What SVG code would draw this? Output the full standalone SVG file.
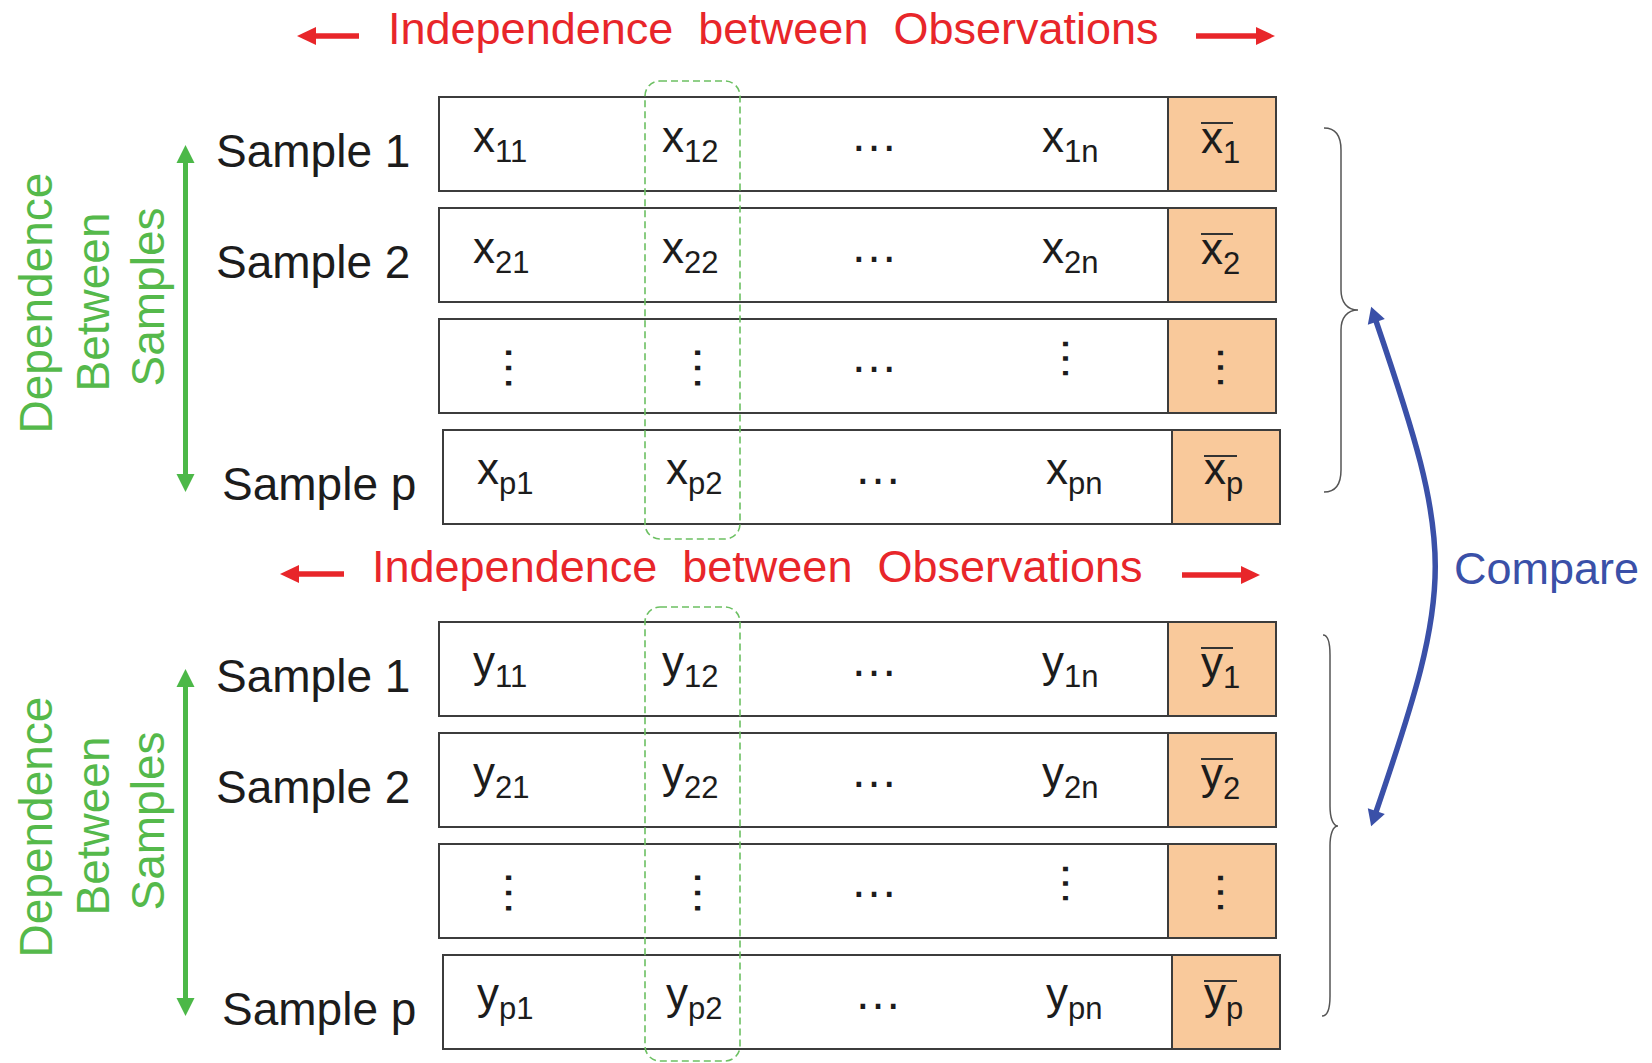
<svg xmlns="http://www.w3.org/2000/svg" width="1652" height="1063" viewBox="0 0 1652 1063">
<style>
.t{font-family:"Liberation Sans",Arial,sans-serif}
.row{fill:#fff;stroke:#3c3c3c;stroke-width:2}
.mean{fill:#f9c99b;stroke:#3c3c3c;stroke-width:2}
.cell{font-size:44px;fill:#1c1c1c}
.sub{font-size:31px}
.lbl{font-size:46px;fill:#1c1c1c}
.title{font-size:45px;fill:#e8262a}
.dep{font-size:46px;fill:#55b94b;text-anchor:middle}
.dots{font-size:48px;fill:#1c1c1c}
.dots2{font-size:46px;fill:#1c1c1c}
.ovl{stroke:#333;stroke-width:2}
.dash{fill:none;stroke:#6cc062;stroke-width:1.6;stroke-dasharray:7 4}
.brace{fill:none;stroke:#555;stroke-width:1.5}
.red{stroke:#e8262a;stroke-width:5.5;fill:none}
.green{stroke:#4cb848;stroke-width:5;fill:none}
.blue{stroke:#3a50a8;stroke-width:5.5;fill:none}
</style>
<defs>
<marker id="hr" markerUnits="userSpaceOnUse" viewBox="-2 -11 22 22" markerWidth="22" markerHeight="22" refX="0" refY="0" orient="auto-start-reverse"><path d="M-1,-9 L18,0 L-1,9 z" fill="#e8262a"/></marker>
<marker id="hg" markerUnits="userSpaceOnUse" viewBox="-2 -10 22 20" markerWidth="22" markerHeight="20" refX="0" refY="0" orient="auto-start-reverse"><path d="M-1,-9 L17,0 L-1,9 z" fill="#4cb848"/></marker>
<marker id="hb" markerUnits="userSpaceOnUse" viewBox="-2 -10 22 20" markerWidth="22" markerHeight="20" refX="0" refY="0" orient="auto-start-reverse"><path d="M-1,-9 L15,0 L-1,9 z" fill="#3a50a8"/></marker>
</defs>

<g id="title-x"><text class="t title" x="388" y="44">Independence&#160; between&#160; Observations</text></g>
<g id="title-y"><text class="t title" x="372" y="582">Independence&#160; between&#160; Observations</text></g>

<g id="dep-x">
<text class="t dep" transform="translate(52,303) rotate(-90)">Dependence</text>
<text class="t dep" transform="translate(109,302) rotate(-90)">Between</text>
<text class="t dep" transform="translate(164,297) rotate(-90)">Samples</text>
</g>
<g id="dep-y">
<text class="t dep" transform="translate(52,827) rotate(-90)">Dependence</text>
<text class="t dep" transform="translate(109,826) rotate(-90)">Between</text>
<text class="t dep" transform="translate(164,821) rotate(-90)">Samples</text>
</g>

<!-- X sample rows -->
<g id="x-row1" transform="translate(0,96)">
<rect class="row" x="439" y="1" width="837" height="94"/>
<rect class="mean" x="1168" y="1" width="108" height="94"/>
<text class="t lbl" x="216" y="71">Sample 1</text>
<text class="t cell" x="473" y="55.5">x<tspan class="sub" dy="10">11</tspan></text>
<text class="t cell" x="662" y="55.5">x<tspan class="sub" dy="10">12</tspan></text>
<text class="t dots" x="850" y="55">…</text>
<text class="t cell" x="1042" y="55.5">x<tspan class="sub" dy="10">1n</tspan></text>
<line class="ovl" x1="1201" y1="27" x2="1233" y2="27"/>
<text class="t cell" x="1201" y="57">x<tspan class="sub" dy="10">1</tspan></text>
</g>
<g id="x-row2" transform="translate(0,207)">
<rect class="row" x="439" y="1" width="837" height="94"/>
<rect class="mean" x="1168" y="1" width="108" height="94"/>
<text class="t lbl" x="216" y="71">Sample 2</text>
<text class="t cell" x="473" y="55.5">x<tspan class="sub" dy="10">21</tspan></text>
<text class="t cell" x="662" y="55.5">x<tspan class="sub" dy="10">22</tspan></text>
<text class="t dots" x="850" y="55">…</text>
<text class="t cell" x="1042" y="55.5">x<tspan class="sub" dy="10">2n</tspan></text>
<line class="ovl" x1="1201" y1="27" x2="1233" y2="27"/>
<text class="t cell" x="1201" y="57">x<tspan class="sub" dy="10">2</tspan></text>
</g>
<g id="x-row3" transform="translate(0,318)">
<rect class="row" x="439" y="1" width="837" height="94"/>
<rect class="mean" x="1168" y="1" width="108" height="94"/>
<text class="t dots" transform="translate(505.5,26) rotate(90)">…</text>
<text class="t dots" transform="translate(695,26) rotate(90)">…</text>
<text class="t dots" x="850" y="54">…</text>
<text class="t dots2" transform="translate(1063.3,17.5) rotate(90)">…</text>
<text class="t dots2" transform="translate(1217.6,26.5) rotate(90)">…</text>
</g>
<g id="x-rowp" transform="translate(4,429)">
<rect class="row" x="439" y="1" width="837" height="94"/>
<rect class="mean" x="1168" y="1" width="108" height="94"/>
<text class="t lbl" x="218" y="71">Sample p</text>
<text class="t cell" x="473" y="54.5">x<tspan class="sub" dy="10">p1</tspan></text>
<text class="t cell" x="662" y="54.5">x<tspan class="sub" dy="10">p2</tspan></text>
<text class="t dots" x="850" y="55">…</text>
<text class="t cell" x="1042" y="54.5">x<tspan class="sub" dy="10">pn</tspan></text>
<line class="ovl" x1="1200" y1="27" x2="1233" y2="27"/>
<text class="t cell" x="1200" y="55">x<tspan class="sub" dy="10">p</tspan></text>
</g>

<!-- Y sample rows -->
<g id="y-row1" transform="translate(0,621)">
<rect class="row" x="439" y="1" width="837" height="94"/>
<rect class="mean" x="1168" y="1" width="108" height="94"/>
<text class="t lbl" x="216" y="71">Sample 1</text>
<text class="t cell" x="473" y="55.5">y<tspan class="sub" dy="10">11</tspan></text>
<text class="t cell" x="662" y="55.5">y<tspan class="sub" dy="10">12</tspan></text>
<text class="t dots" x="850" y="55">…</text>
<text class="t cell" x="1042" y="55.5">y<tspan class="sub" dy="10">1n</tspan></text>
<line class="ovl" x1="1201" y1="27" x2="1233" y2="27"/>
<text class="t cell" x="1201" y="57">y<tspan class="sub" dy="10">1</tspan></text>
</g>
<g id="y-row2" transform="translate(0,732)">
<rect class="row" x="439" y="1" width="837" height="94"/>
<rect class="mean" x="1168" y="1" width="108" height="94"/>
<text class="t lbl" x="216" y="71">Sample 2</text>
<text class="t cell" x="473" y="55.5">y<tspan class="sub" dy="10">21</tspan></text>
<text class="t cell" x="662" y="55.5">y<tspan class="sub" dy="10">22</tspan></text>
<text class="t dots" x="850" y="55">…</text>
<text class="t cell" x="1042" y="55.5">y<tspan class="sub" dy="10">2n</tspan></text>
<line class="ovl" x1="1201" y1="27" x2="1233" y2="27"/>
<text class="t cell" x="1201" y="57">y<tspan class="sub" dy="10">2</tspan></text>
</g>
<g id="y-row3" transform="translate(0,843)">
<rect class="row" x="439" y="1" width="837" height="94"/>
<rect class="mean" x="1168" y="1" width="108" height="94"/>
<text class="t dots" transform="translate(505.5,26) rotate(90)">…</text>
<text class="t dots" transform="translate(695,26) rotate(90)">…</text>
<text class="t dots" x="850" y="54">…</text>
<text class="t dots2" transform="translate(1063.3,17.5) rotate(90)">…</text>
<text class="t dots2" transform="translate(1217.6,26.5) rotate(90)">…</text>
</g>
<g id="y-rowp" transform="translate(4,954)">
<rect class="row" x="439" y="1" width="837" height="94"/>
<rect class="mean" x="1168" y="1" width="108" height="94"/>
<text class="t lbl" x="218" y="71">Sample p</text>
<text class="t cell" x="473" y="54.5">y<tspan class="sub" dy="10">p1</tspan></text>
<text class="t cell" x="662" y="54.5">y<tspan class="sub" dy="10">p2</tspan></text>
<text class="t dots" x="850" y="55">…</text>
<text class="t cell" x="1042" y="54.5">y<tspan class="sub" dy="10">pn</tspan></text>
<line class="ovl" x1="1200" y1="27" x2="1233" y2="27"/>
<text class="t cell" x="1200" y="55">y<tspan class="sub" dy="10">p</tspan></text>
</g>

<g id="col2-x"><rect class="dash" x="645" y="81" width="95" height="458" rx="15"/></g>
<g id="col2-y"><rect class="dash" x="645" y="607" width="95" height="454" rx="15"/></g>

<g id="brace-x"><path class="brace" d="M1324,128 C1336,128 1341,136 1341,150 L1341,290 C1341,302 1347,310 1358,310 C1347,310 1341,318 1341,330 L1341,470 C1341,484 1336,492 1324,492"/></g>
<g id="brace-y"><path class="brace" d="M1323,635 C1328,635 1330,642 1330,655 L1330,806 C1330,818 1333,826 1338,826 C1333,826 1330,834 1330,846 L1330,996 C1330,1008 1328,1016 1322,1016"/></g>

<g id="compare"><text class="t" x="1454" y="584" font-size="45" fill="#3a50a8">Compare</text></g>

<g id="connectors">
<path class="red" d="M359,36 L315,36" marker-end="url(#hr)"/>
<path class="red" d="M1196,36 L1257,36" marker-end="url(#hr)"/>
<path class="red" d="M344,574 L298,574" marker-end="url(#hr)"/>
<path class="red" d="M1182,575 L1242,575" marker-end="url(#hr)"/>
<path class="green" d="M185.5,162 L185.5,475" marker-start="url(#hg)" marker-end="url(#hg)"/>
<path class="green" d="M185.5,686 L185.5,999" marker-start="url(#hg)" marker-end="url(#hg)"/>
<path class="blue" d="M1376,321 C1455,552 1455,581 1376,812" marker-start="url(#hb)" marker-end="url(#hb)"/>
</g>
</svg>
